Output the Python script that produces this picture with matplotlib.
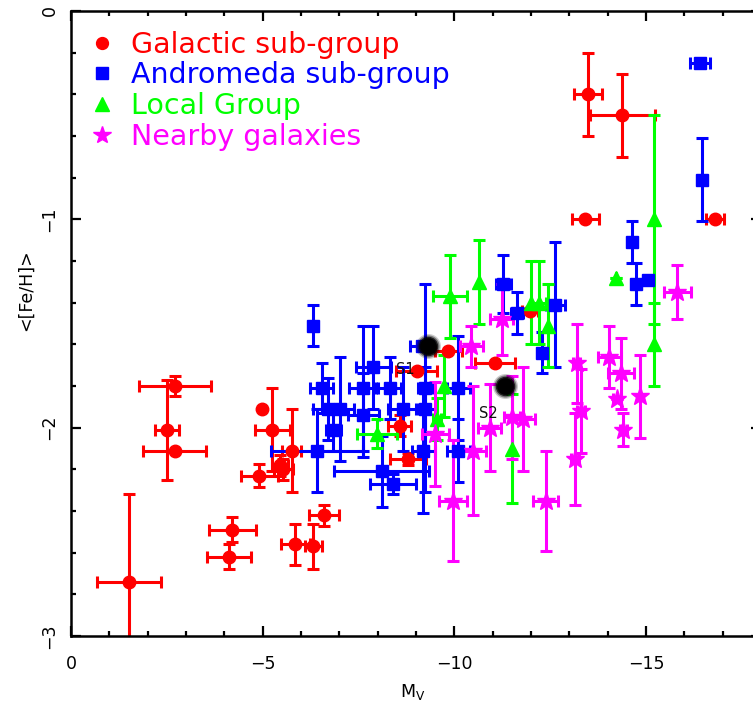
import matplotlib
matplotlib.use("Agg")
import matplotlib.pyplot as plt
from matplotlib.lines import Line2D
from matplotlib.ticker import MultipleLocator

# Galactic sub-group: M_V, <[Fe/H]>, errors
gal_mv   = [-1.52, -2.71, -2.51, -2.71, -4.99, -5.25, -5.76, -4.91, -5.54, -5.45,
            -4.21, -4.12, -5.85, -6.32, -6.60, -8.80, -8.58, -9.02, -9.84, -11.06,
            -11.97, -13.48, -14.38, -13.42, -16.80]
gal_feh  = [-2.74, -1.80, -2.01, -2.11, -1.91, -2.01, -2.11, -2.23, -2.20, -2.18,
            -2.49, -2.62, -2.56, -2.57, -2.42, -2.15, -1.99, -1.73, -1.63, -1.69,
            -1.44, -0.40, -0.50, -1.00, -1.00]
gal_xerr = [0.83, 0.93, 0.32, 0.82, 0.00, 0.45, 0.25, 0.48, 0.25, 0.20,
            0.61, 0.57, 0.38, 0.22, 0.40, 0.47, 0.30, 0.54, 0.35, 0.52,
            0.20, 0.36, 0.85, 0.36, 0.24]
gal_yerr = [0.42, 0.05, 0.24, 0.00, 0.00, 0.20, 0.20, 0.055, 0.05, 0.05,
            0.06, 0.06, 0.10, 0.11, 0.05, 0.03, 0.05, 0.00, 0.00, 0.00,
            0.00, 0.20, 0.20, 0.00, 0.00]

# Andromeda sub-group
and_mv   = [-6.32, -7.89, -6.54, -7.61, -8.32, -6.71, -7.02, -7.63, -6.84, -8.67,
            -9.24, -6.41, -8.11, -8.41, -9.19, -9.24, -9.15, -10.10, -10.10, -11.28,
            -11.63, -12.63, -12.28, -14.63, -14.73, -15.06, -16.41, -16.45]
and_feh  = [-1.51, -1.71, -1.81, -1.81, -1.81, -1.91, -1.91, -1.94, -2.01, -1.91,
            -1.91, -2.11, -2.21, -2.27, -2.11, -1.81, -1.61, -1.81, -2.11, -1.31,
            -1.45, -1.41, -1.64, -1.11, -1.31, -1.29, -0.25, -0.81]
and_xerr = [0.05, 0.45, 0.30, 0.35, 0.30, 0.40, 0.35, 0.40, 0.20, 0.40,
            0.25, 1.20, 1.24, 0.60, 0.30, 0.20, 0.30, 0.30, 0.30, 0.20,
            0.15, 0.25, 0.10, 0.05, 0.05, 0.05, 0.26, 0.00]
and_yerr = [0.10, 0.20, 0.12, 0.30, 0.15, 0.15, 0.25, 0.20, 0.10, 0.20,
            0.20, 0.20, 0.17, 0.05, 0.30, 0.50, 0.00, 0.25, 0.15, 0.14,
            0.10, 0.30, 0.10, 0.10, 0.10, 0.00, 0.00, 0.20]

# Local Group
lg_mv   = [-7.99, -9.89, -10.64, -12.00, -12.20, -12.45, -9.72, -9.54, -11.50, -15.20, -15.20, -14.23]
lg_feh  = [-2.03, -1.37, -1.30, -1.40, -1.40, -1.51, -1.80, -1.96, -2.10, -1.00, -1.60, -1.28]
lg_xerr = [0.52, 0.44, 0.00, 0.00, 0.20, 0.00, 0.00, 0.10, 0.00, 0.00, 0.00, 0.00]
lg_yerr = [0.07, 0.20, 0.20, 0.20, 0.20, 0.20, 0.15, 0.10, 0.26, 0.50, 0.20, 0.00]

# Nearby galaxies
nb_mv   = [-9.50, -10.50, -9.96, -10.93, -11.50, -11.80, -12.38, -13.15, -13.30, -13.19,
           -14.04, -14.35, -14.25, -14.41, -14.84, -15.82, -11.24, -10.44]
nb_feh  = [-2.03, -2.11, -2.35, -2.00, -1.95, -1.96, -2.35, -2.15, -1.92, -1.69,
           -1.66, -1.74, -1.86, -2.01, -1.85, -1.35, -1.48, -1.61]
nb_xerr = [0.35, 0.33, 0.36, 0.30, 0.20, 0.30, 0.32, 0.10, 0.10, 0.10,
           0.30, 0.33, 0.10, 0.10, 0.00, 0.36, 0.30, 0.30]
nb_yerr = [0.25, 0.31, 0.29, 0.21, 0.20, 0.25, 0.24, 0.22, 0.20, 0.19,
           0.15, 0.17, 0.00, 0.08, 0.20, 0.13, 0.17, 0.10]

# Highlighted systems
s_names = ["S1", "S2"]
s_mv    = [-9.32, -11.31]
s_feh   = [-1.61, -1.80]

group_labels = ["Galactic sub-group", "Andromeda sub-group", "Local Group", "Nearby galaxies"]
group_colors = ["#ff0000", "#0000ff", "#00ff00", "#ff00ff"]
group_markers = ["o", "s", "^", "*"]
group_msizes = [9, 8.5, 10, 14]

x_ticks = [0, -5, -10, -15]
y_ticks = [0, -1, -2, -3]

fig = plt.figure(figsize=(7.53, 7.15), dpi=100)
ax = fig.add_axes([71 / 753, 79 / 715, 690 / 753, 625 / 715])

groups = [
    (gal_mv, gal_feh, gal_xerr, gal_yerr),
    (and_mv, and_feh, and_xerr, and_yerr),
    (lg_mv, lg_feh, lg_xerr, lg_yerr),
    (nb_mv, nb_feh, nb_xerr, nb_yerr),
]
for (x, y, xe, ye), c, m, ms in zip(groups, group_colors, group_markers, group_msizes):
    ax.errorbar(x, y, xerr=xe, yerr=ye, fmt=m, color=c, ms=ms, mec=c, mfc=c,
                elinewidth=2.2, capsize=4.5, capthick=2.2, clip_on=True)

# soft-edged black markers for S1 and S2
for ms, a in [(18, 0.2), (16, 0.4), (14, 0.75), (12, 1.0)]:
    ax.plot(s_mv, s_feh, "o", color="black", ms=ms, alpha=a, mew=0, zorder=5)
ax.text(-8.72, -1.72, s_names[0], fontsize=10.5, ha="center", va="center",
        color="#111111", zorder=6)
ax.text(-10.88, -1.93, s_names[1], fontsize=10.5, ha="center", va="center",
        color="#111111", zorder=6)

ax.set_xlim(0, -18.0)
ax.set_ylim(-3, 0)
ax.set_xticks(x_ticks)
ax.set_yticks(y_ticks)
ax.set_xticklabels(["0", "\u22125", "\u221210", "\u221215"])
ax.set_yticklabels(["0", "\u22121", "\u22122", "\u22123"])
ax.xaxis.set_minor_locator(MultipleLocator(1))
ax.yaxis.set_minor_locator(MultipleLocator(0.2))
ax.tick_params(which="both", direction="in", top=True, right=True, width=1.6, color="black")
ax.tick_params(which="major", length=7.5, labelsize=12.5)
ax.tick_params(axis="x", which="major", pad=14)
ax.tick_params(axis="y", which="major", pad=9)
ax.tick_params(which="minor", length=3.5)
ax.tick_params(axis="y", labelrotation=90)
for lbl in ax.get_yticklabels():
    lbl.set_va("center")
for sp in ax.spines.values():
    sp.set_linewidth(1.8)

ax.set_xlabel("M$_\\mathregular{V}$", fontsize=12.5)
ax.xaxis.set_label_coords(0.495, -0.074)
ax.set_ylabel("<[Fe/H]>", fontsize=12.5)
ax.yaxis.set_label_coords(-0.052, 0.554)

handles = [Line2D([], [], ls="none", marker=m, color=c, ms=ms * 0.95)
           for c, m, ms in zip(group_colors, group_markers, group_msizes)]
leg = ax.legend(handles, group_labels, loc="upper left", bbox_to_anchor=(0.0, 0.996),
                frameon=False, fontsize=20.5, handlelength=1.0, handletextpad=0.5,
                labelspacing=0.1, borderaxespad=0.2)
for t, c in zip(leg.get_texts(), group_colors):
    t.set_color(c)

fig.savefig("out.png", dpi=100)
